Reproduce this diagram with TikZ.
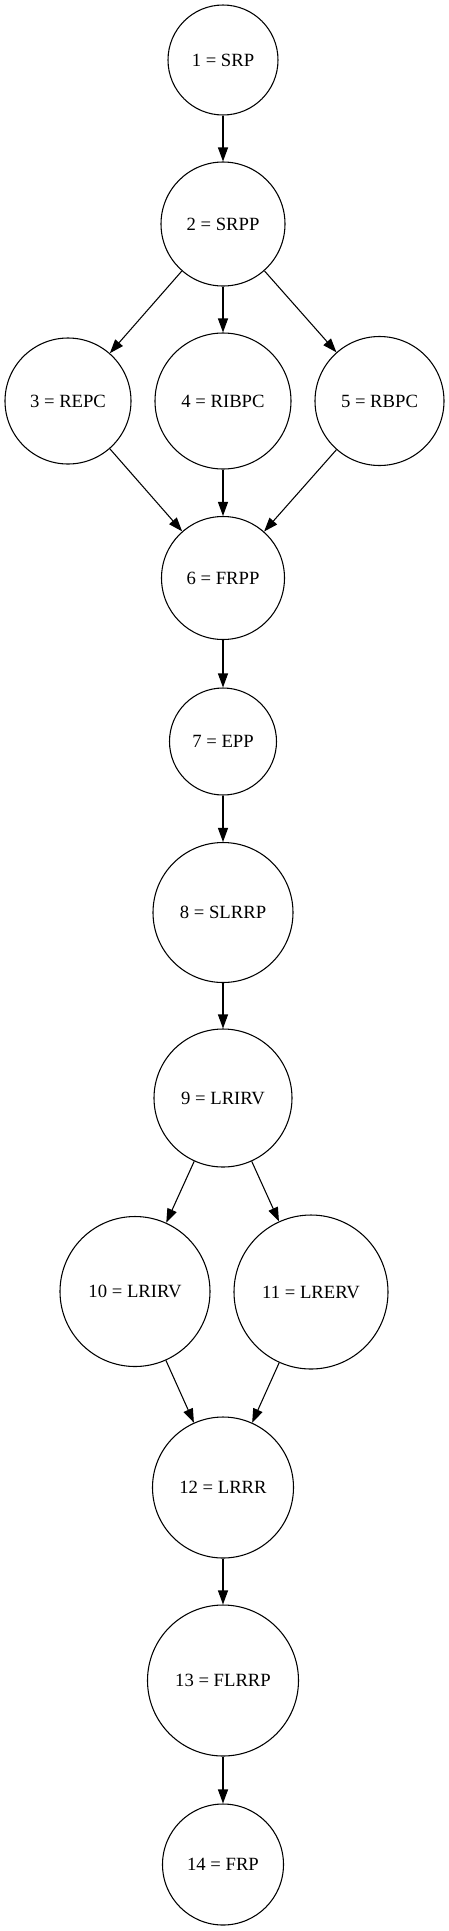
\documentclass[tikz,border=0pt]{standalone}
\usepackage{fontspec}
\setmainfont{Liberation Serif}
\usetikzlibrary{arrows.meta}

\begin{document}
\begin{tikzpicture}[x=0.75pt,y=-0.75pt,line width=0.8pt,
  >={Triangle[length=10.5pt,width=7.5pt]},
  state/.style={draw,circle,inner sep=0pt,font=\fontsize{14}{16}\selectfont}]
  \useasboundingbox (0,0) rectangle (449,1931);
  \node[state,minimum size=82.5pt] (n1) at (223,60) {1 = SRP};
  \node[state,minimum size=93pt] (n2) at (223,224) {2 = SRPP};
  \node[state,minimum size=94.5pt] (n3) at (68,401) {3 = REPC};
  \node[state,minimum size=102pt] (n4) at (223,401) {4 = RIBPC};
  \node[state,minimum size=96.75pt] (n5) at (379.5,401) {5 = RBPC};
  \node[state,minimum size=92.25pt] (n6) at (223,578) {6 = FRPP};
  \node[state,minimum size=80.25pt] (n7) at (223,741.5) {7 = EPP};
  \node[state,minimum size=105pt] (n8) at (223,912.5) {8 = SLRRP};
  \node[state,minimum size=103.5pt] (n9) at (223,1098) {9 = LRIRV};
  \node[state,minimum size=112.5pt] (n10) at (135,1291.5) {10 = LRIRV};
  \node[state,minimum size=115.5pt] (n11) at (311,1292) {11 = LRERV};
  \node[state,minimum size=105.75pt] (n12) at (223,1487.5) {12 = LRRR};
  \node[state,minimum size=113.25pt] (n13) at (223,1680.5) {13 = FLRRP};
  \node[state,minimum size=90.75pt] (n14) at (223,1864.5) {14 = FRP};
  \foreach \a/\b in {1/2,2/3,2/4,2/5,3/6,4/6,5/6,6/7,7/8,8/9,9/10,9/11,10/12,11/12,12/13,13/14}
    \draw[->] (n\a) -- (n\b);
\end{tikzpicture}
\end{document}
